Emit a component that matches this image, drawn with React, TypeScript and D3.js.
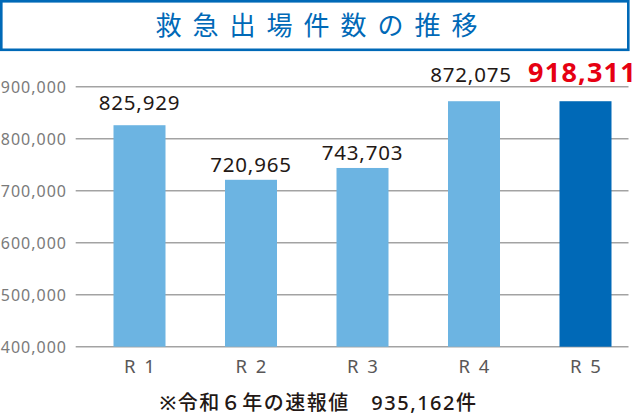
import * as d3 from "d3";

const categories = ["R 1", "R 2", "R 3", "R 4", "R 5"];
// bar heights as drawn in the picture (the R5 bar is drawn at the R4 height)
const barValues = [825929, 720965, 743703, 872075, 872075];
const valueLabels = ["825,929", "720,965", "743,703", "872,075", "918,311"];
const yTicks = [400000, 500000, 600000, 700000, 800000, 900000];

const title = "救急出場件数の推移";
const note = "※令和６年の速報値　935,162件";

const W = 640;
const H = 416;
const FONT = "'Noto Sans', 'Noto Sans CJK JP', sans-serif";
const LIGHT = "#6cb4e2";
const DARK = "#0069b7";

// gap between label baseline and bar top, as placed in the original
const labelGap = [15, 8, 8, 19, 19];

const App = () => {
  const y = d3.scaleLinear().domain([400000, 900000]).range([346.7, 86.7]);
  const x = d3.scalePoint<string>().domain(categories).range([139.5, 585.5]);
  const barW = 52;
  const fmt = d3.format(",");

  return (
    <svg
      width={W}
      height={H}
      style={{ position: "absolute", left: 0, top: 0, background: "#fff" }}
      fontFamily={FONT}
    >
      {/* title box */}
      <rect x={1.3} y={1.3} width={627} height={48.5} fill="#fff" stroke={DARK} strokeWidth={2.6} />
      <text
        x={322}
        y={35}
        textAnchor="middle"
        fontSize={26}
        fill={DARK}
        letterSpacing={11}
        fontFamily="'Noto Sans CJK JP', sans-serif"
      >
        {title}
      </text>

      {/* grid + y labels */}
      {yTicks.map((t) => (
        <g key={t}>
          <line x1={75.7} x2={628.5} y1={y(t)} y2={y(t)} stroke="#a3a3a3" strokeWidth={1.5} />
          <text x={67} y={y(t) + 6} textAnchor="end" fontSize={16} fill="#7a7a7a" letterSpacing={1}>
            {fmt(t)}
          </text>
        </g>
      ))}

      {/* bars */}
      {barValues.map((v, i) => (
        <rect
          key={i}
          x={x(categories[i])! - barW / 2}
          y={y(v)}
          width={barW}
          height={y(400000) - y(v)}
          fill={i === barValues.length - 1 ? DARK : LIGHT}
        />
      ))}

      {/* value labels */}
      {valueLabels.map((s, i) => {
        const last = i === valueLabels.length - 1;
        return (
          <text
            key={i}
            x={x(categories[i])! - (i >= 3 ? 3 : 0)}
            y={y(barValues[i]) - labelGap[i]}
            textAnchor="middle"
            fontSize={last ? 27 : 20.5}
            fontWeight={last ? 700 : 400}
            fill={last ? "#e60012" : "#231815"}
            letterSpacing={last ? 1.2 : 0.8}
          >
            {s}
          </text>
        );
      })}

      {/* x labels */}
      {categories.map((c) => (
        <text
          key={c}
          x={x(c)! + 1}
          y={373.3}
          textAnchor="middle"
          fontSize={18.5}
          fill="#595757"
          letterSpacing={2}
        >
          {c}
        </text>
      ))}

      <text x={318.5} y={410} textAnchor="middle" fontSize={20} fill="#231815" letterSpacing={1.5} fontWeight={500}>
        {note}
      </text>
    </svg>
  );
};

export default App;
